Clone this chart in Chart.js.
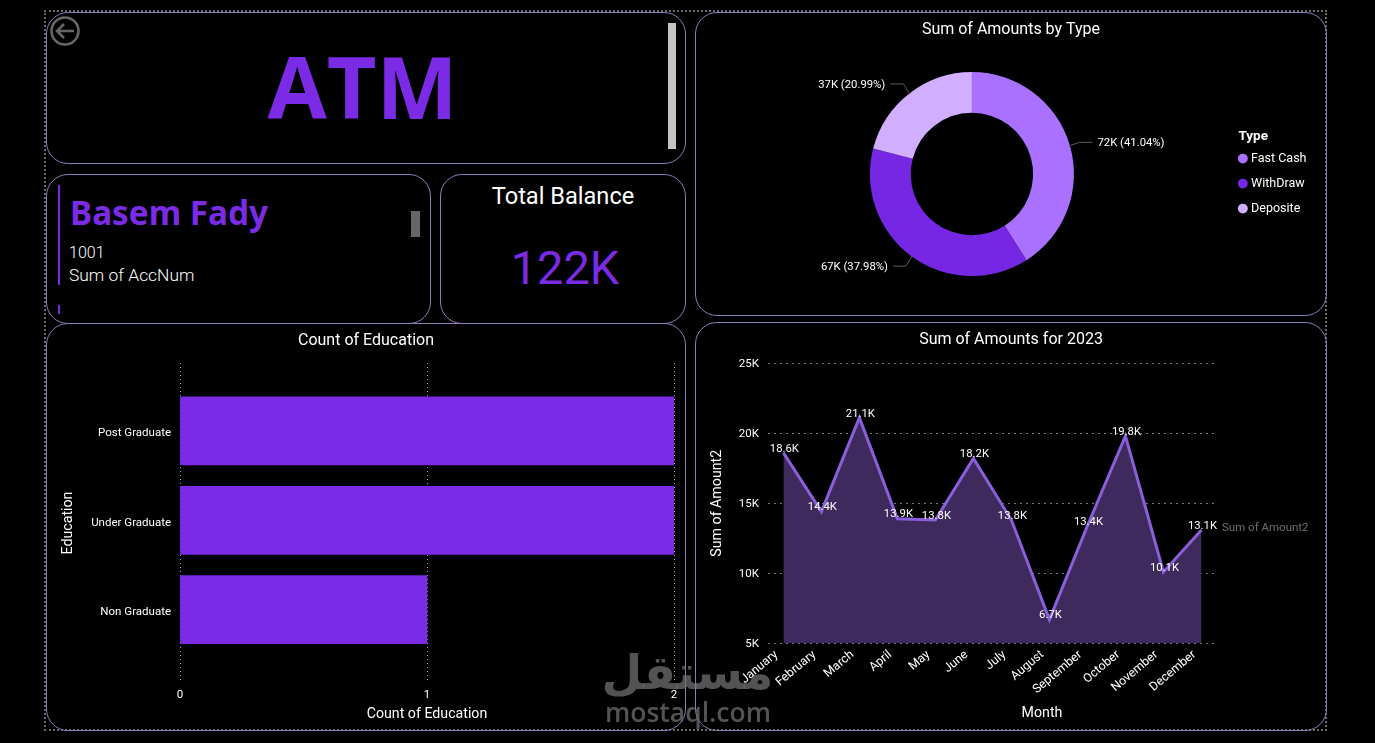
<!DOCTYPE html>
<html>
<head>
<meta charset="utf-8">
<title>ATM dashboard</title>
<script src="https://cdn.jsdelivr.net/npm/chart.js@4"></script>
<style>
  html, body { margin: 0; padding: 0; background: #000; width: 1375px; height: 743px; overflow: hidden; }
  body { position: relative; font-family: Roboto, sans-serif; color: #fff; }
  .abs { position: absolute; }
  .frame { left: 44px; top: 10px; width: 1283px; height: 721px; border: 2px dotted #6a6a6a; box-sizing: border-box; }
  .card { position: absolute; box-sizing: border-box; border: 1px solid #8f7bb5; border-radius: 22px; }
  .text { position: absolute; white-space: nowrap; line-height: 1; }
  canvas { position: absolute; }
  .mark { position: absolute; white-space: nowrap; color: rgba(115,115,115,.72); line-height: 1; font-weight: 700; }
</style>
</head>
<body>
<div class="abs frame"></div>

<div class="card" style="left:46px;top:12px;width:640px;height:152px"></div>
<div class="card" style="left:46px;top:174px;width:385px;height:150px"></div>
<div class="card" style="left:440px;top:174px;width:246px;height:150px"></div>
<div class="card" style="left:695px;top:12px;width:632px;height:304px"></div>
<div class="card" style="left:46px;top:323px;width:640px;height:408px"></div>
<div class="card" style="left:695px;top:322px;width:632px;height:409px"></div>

<!-- Header tile -->
<svg class="abs" style="left:50px;top:16px" width="32" height="32" viewBox="0 0 32 32" fill="none" stroke="#666" stroke-width="2.6">
  <circle cx="15" cy="15" r="13.5"/>
  <path d="M24 15H7M14 8l-7 7 7 7"/>
</svg>
<div class="text" style="left:0;top:42px;width:725px;text-align:center;font:700 86px 'Open Sans',sans-serif;line-height:88px;color:#7b2be6">ATM</div>
<div class="abs" style="left:668px;top:23px;width:8px;height:126px;background:#c4c4c4"></div>

<!-- Account tile -->
<div class="abs" style="left:58px;top:185px;width:2px;height:100px;background:#7b2be6"></div>
<div class="abs" style="left:58px;top:305px;width:2px;height:9px;background:#7b2be6"></div>
<div class="text" style="left:70px;top:194px;font:700 33.3px 'Noto Sans',sans-serif;line-height:36px;color:#7b2be6">Basem Fady</div>
<div class="text" style="left:69px;top:243px;font:300 16px Roboto,sans-serif">1001</div>
<div class="text" style="left:69px;top:265px;font:300 17.4px Roboto,sans-serif">Sum of AccNum</div>
<div class="abs" style="left:411px;top:211px;width:9px;height:26px;background:#666"></div>

<!-- Balance tile -->
<div class="text" style="left:440px;top:183px;width:246px;text-align:center;font:400 23.6px Roboto,sans-serif;line-height:26px">Total Balance</div>
<div class="text" style="left:440px;top:243px;width:250px;text-align:center;font:400 47px Roboto,sans-serif;line-height:50px;color:#7b2be6">122K</div>

<canvas id="typeChart" style="left:696px;top:13px" width="630" height="302"></canvas>
<canvas id="educationChart" style="left:47px;top:324px" width="638" height="406"></canvas>
<canvas id="monthChart" style="left:696px;top:323px" width="630" height="407"></canvas>

<!-- Site mark -->
<div class="mark" dir="rtl" style="left:600px;top:637px;width:175px;text-align:center;font-family:'DejaVu Sans',sans-serif;font-size:47px;line-height:72px">مستقل</div>
<div class="mark" style="left:605px;top:699px;font-family:'Open Sans',sans-serif;font-size:26.5px;line-height:26px;font-weight:600">mostaql.com</div>

<script>
const PURPLE = '#7b2be6';
const TEXT_FONT = 'Roboto, sans-serif';

const amountTypes = ['Fast Cash', 'WithDraw', 'Deposite'];
const amountByType = [72150, 66770, 36900];
const typeColors = ['#aa70ff', '#7627e4', '#d1aeff'];

const educationLevels = ['Post Graduate', 'Under Graduate', 'Non Graduate'];
const educationCounts = [2, 2, 1];

const months = ['January', 'February', 'March', 'April', 'May', 'June', 'July', 'August', 'September', 'October', 'November', 'December'];
const monthlyAmounts = [18600, 14400, 21100, 13900, 13800, 18200, 13800, 6700, 13400, 19800, 10100, 13100];

const kFormat = v => (v / 1000) + 'K';
const typeTotal = amountByType.reduce((a, b) => a + b, 0);

// Empty right-hand axis that keeps a gutter free while the title stays centred on the whole canvas.
const gutterAxis = width => ({
  position: 'right',
  afterFit(scale) { scale.width = width; },
  border: { display: false },
  grid: { display: false },
  ticks: { display: false }
});

// Keeps the doughnut title centred on the card although the legend gutter is uneven.
const centredTitle = {
  id: 'centredTitle',
  afterLayout(chart) {
    chart.titleBlock.left = 0;
    chart.titleBlock.right = chart.width;
  }
};

// Doughnut slice labels with elbow leader lines.
const sliceLabels = {
  id: 'sliceLabels',
  afterDatasetsDraw(chart) {
    const { ctx } = chart;
    const arcs = chart.getDatasetMeta(0).data;
    ctx.save();
    ctx.font = '400 11.3px ' + TEXT_FONT;
    ctx.textBaseline = 'middle';
    arcs.forEach((arc, i) => {
      const mid = (arc.startAngle + arc.endAngle) / 2;
      const r = arc.outerRadius;
      const side = Math.cos(mid) >= 0 ? 1 : -1;
      const sx = arc.x + Math.cos(mid) * (r - 1), sy = arc.y + Math.sin(mid) * (r - 1);
      const ex = arc.x + Math.cos(mid) * (r + 10), ey = arc.y + Math.sin(mid) * (r + 12);
      const hx = ex + side * 13;
      ctx.strokeStyle = '#5a5a5a';
      ctx.lineWidth = 1;
      ctx.beginPath();
      ctx.moveTo(sx, sy);
      ctx.lineTo(ex, ey);
      ctx.lineTo(hx, ey);
      ctx.stroke();
      const v = amountByType[i];
      const label = Math.round(v / 1000) + 'K (' + (v / typeTotal * 100).toFixed(2) + '%)';
      ctx.fillStyle = '#fff';
      ctx.textAlign = side > 0 ? 'left' : 'right';
      ctx.fillText(label, hx + side * 5, ey + 1);
    });
    ctx.restore();
  }
};

new Chart(document.getElementById('typeChart'), {
  type: 'doughnut',
  data: {
    labels: amountTypes,
    datasets: [{ data: amountByType, backgroundColor: typeColors, borderWidth: 0 }]
  },
  plugins: [sliceLabels, centredTitle],
  options: {
    responsive: false,
    animation: false,
    cutout: '60%',
    layout: { padding: { left: 19.5, right: 9.5, top: 0, bottom: 39 }, autoPadding: false },
    plugins: {
      tooltip: { enabled: false },
      title: {
        display: true,
        text: 'Sum of Amounts by Type',
        color: '#fff',
        font: { family: TEXT_FONT, size: 16, weight: 'normal' },
        padding: { top: 6.9, bottom: 32.9 }
      },
      legend: {
        position: 'right',
        align: 'center',
        title: {
          display: true,
          position: 'start',
          text: '\u00A0\u00A0\u00A0Type',
          color: '#fff',
          font: { family: TEXT_FONT, size: 13.5, weight: 'bold' },
          padding: { top: 68, bottom: -6 }
        },
        labels: {
          color: '#fff',
          usePointStyle: true,
          boxHeight: 7,
          boxWidth: 4,
          padding: 12.5,
          font: { family: TEXT_FONT, size: 12.5, weight: 400 }
        }
      }
    }
  }
});

new Chart(document.getElementById('educationChart'), {
  type: 'bar',
  data: {
    datasets: [{
      data: educationLevels.map((_, i) => ({ x: educationCounts[i], y: i })),
      backgroundColor: PURPLE,
      barThickness: 68
    }]
  },
  options: {
    indexAxis: 'y',
    responsive: false,
    animation: false,
    layout: { autoPadding: false },
    plugins: {
      legend: { display: false },
      tooltip: { enabled: false },
      title: {
        display: true,
        text: 'Count of Education',
        color: '#fff',
        font: { family: TEXT_FONT, size: 16, weight: 'normal' },
        padding: { top: 7, bottom: 12.8 }
      }
    },
    scales: {
      x: {
        type: 'linear',
        min: 0,
        max: 2,
        afterFit(scale) { scale.height = 47; },
        border: { display: false, dash: [1, 3] },
        grid: { color: '#a0a0a0', drawTicks: false },
        ticks: { stepSize: 1, color: '#fff', padding: 5, font: { family: TEXT_FONT, size: 11.5 } },
        title: { display: true, text: 'Count of Education', color: '#fff', padding: { top: 0, bottom: 7 }, font: { family: TEXT_FONT, size: 14.2 } }
      },
      y: {
        type: 'linear',
        offset: false,
        reverse: true,
        min: -0.76,
        max: 2.82,
        afterFit(scale) { scale.width = 133; },
        border: { display: false },
        grid: { display: false, drawTicks: false },
        ticks: {
          stepSize: 1,
          includeBounds: false,
          color: '#fff',
          padding: 9,
          labelOffset: 2.5,
          font: { family: TEXT_FONT, size: 11.5 },
          callback: v => educationLevels[v]
        },
        title: { display: true, text: 'Education', color: '#fff', padding: { top: 13, bottom: 0 }, font: { family: TEXT_FONT, size: 14.2 } }
      },
      yGutter: gutterAxis(11)
    }
  }
});

// Point values, the off-centre axis name and the series name on the month chart.
const monthLabels = {
  id: 'monthLabels',
  afterDatasetsDraw(chart) {
    const { ctx } = chart;
    const pts = chart.getDatasetMeta(0).data;
    ctx.save();
    ctx.textBaseline = 'middle';
    ctx.textAlign = 'center';
    ctx.font = '400 11.3px ' + TEXT_FONT;
    ctx.fillStyle = '#fff';
    pts.forEach((pt, i) => {
      ctx.fillText((monthlyAmounts[i] / 1000).toFixed(1) + 'K', pt.x + 1, pt.y - 4);
    });
    ctx.font = '14.2px ' + TEXT_FONT;
    ctx.fillText('Month', 346, 390.5);
    ctx.textAlign = 'left';
    ctx.font = '400 11.5px ' + TEXT_FONT;
    ctx.fillStyle = '#6e6e6e';
    ctx.fillText('Sum of Amount2', 526, 205);
    ctx.restore();
  }
};

new Chart(document.getElementById('monthChart'), {
  type: 'line',
  data: {
    datasets: [{
      data: months.map((_, i) => ({ x: i, y: monthlyAmounts[i] })),
      borderColor: '#8b5fdb',
      borderWidth: 3,
      backgroundColor: '#3e2a5c',
      fill: 'start',
      pointRadius: 0,
      tension: 0
    }]
  },
  plugins: [monthLabels],
  options: {
    responsive: false,
    animation: false,
    layout: { autoPadding: false },
    plugins: {
      legend: { display: false },
      tooltip: { enabled: false },
      title: {
        display: true,
        text: 'Sum of Amounts for 2023',
        color: '#fff',
        font: { family: TEXT_FONT, size: 16, weight: 'normal' },
        padding: { top: 7.5, bottom: 13.3 }
      }
    },
    scales: {
      x: {
        type: 'linear',
        min: -0.405,
        max: 11.33,
        afterFit(scale) { scale.height = 86.5; },
        border: { display: false },
        grid: { display: false, drawTicks: false },
        ticks: {
          stepSize: 1,
          includeBounds: false,
          autoSkip: false,
          minRotation: 40,
          maxRotation: 40,
          color: '#fff',
          padding: 4,
          labelOffset: -7,
          font: { family: TEXT_FONT, size: 12.3 },
          callback: v => months[v]
        }
      },
      y: {
        min: 5000,
        max: 25000,
        afterFit(scale) { scale.width = 72; },
        border: { display: false, dash: [2, 4] },
        grid: { color: '#777', drawTicks: false },
        ticks: { stepSize: 5000, color: '#fff', padding: 9, labelOffset: 1, font: { family: TEXT_FONT, size: 11.5 }, callback: kFormat },
        title: { display: true, text: 'Sum of Amount2', color: '#fff', padding: { top: 13, bottom: 0 }, font: { family: TEXT_FONT, size: 14.2 } }
      },
      yGutter: gutterAxis(112)
    }
  }
});
</script>
</body>
</html>
